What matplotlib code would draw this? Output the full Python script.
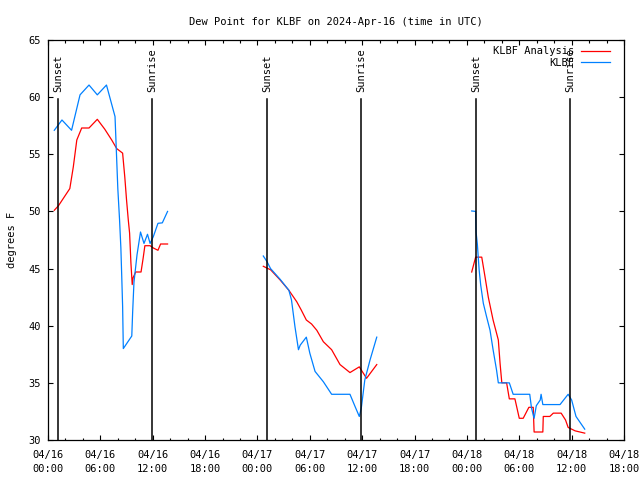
import matplotlib
matplotlib.use("Agg")
import matplotlib.pyplot as plt
import matplotlib.dates as mdates
import numpy as np
import pandas as pd

plt.rcParams['font.family'] = ['DejaVu Sans Mono']

start = pd.Timestamp("2024-04-16 00:00")

# hours after 2024-04-16 00:00 UTC ; dew point (F)
ana_h = [[0.72, 1.2, 2.5, 2.9, 3.3, 3.86, 4.7, 5.65, 6.5, 7.3, 7.87, 8.55, 8.8, 9.0, 9.2, 9.35, 9.5, 9.65, 9.75, 10.05, 10.66, 10.9, 11.1, 11.7, 12.07, 12.6, 12.9, 13.7],
         [24.67, 25.2, 25.5, 26.6, 27.6, 28.5, 29.0, 29.6, 30.2, 30.8, 31.55, 32.5, 33.46, 34.6, 35.67, 36.5, 37.67],
         [48.55, 49.0, 49.7, 50.07, 50.45, 51.0, 51.6, 51.8, 52.0, 52.55, 52.86, 53.5, 54.0, 54.45, 55.1, 55.6, 55.7, 56.7, 56.75, 57.5, 57.9, 58.8, 59.3, 59.6, 60.4, 61.5]]
ana_v = [[50.1, 50.5, 52.0, 53.9, 56.25, 57.3, 57.3, 58.06, 57.2, 56.25, 55.5, 55.1, 53.0, 51.0, 49.25, 48.1, 45.5, 43.6, 44.2, 44.7, 44.7, 45.9, 47.0, 47.0, 46.8, 46.6, 47.15, 47.15],
         [45.2, 45.0, 44.9, 44.0, 43.1, 42.1, 41.4, 40.5, 40.15, 39.6, 38.6, 37.9, 36.6, 35.9, 36.4, 35.4, 36.6],
         [44.7, 46.0, 46.0, 44.3, 42.5, 40.5, 38.75, 36.7, 35.0, 35.0, 33.6, 33.6, 31.9, 31.9, 32.86, 32.86, 30.7, 30.7, 32.06, 32.06, 32.35, 32.35, 31.75, 31.1, 30.8, 30.6]]

obs_h = [[0.72, 1.6, 2.7, 3.67, 4.7, 5.65, 6.7, 7.68, 8.0, 8.2, 8.35, 8.45, 8.55, 8.63, 9.6, 9.7, 9.85, 10.2, 10.6, 11.0, 11.4, 11.7, 12.07, 12.6, 13.1, 13.7],
         [24.67, 25.1, 25.5, 26.6, 27.6, 27.9, 28.3, 28.7, 28.9, 29.6, 30.0, 30.6, 31.55, 32.5, 34.6, 35.2, 35.67, 35.9, 36.3, 36.9, 37.67],
         [48.55, 49.0, 49.05, 49.2, 49.4, 49.58, 49.88, 50.25, 50.65, 51.0, 51.4, 51.6, 52.86, 53.3, 55.2, 55.4, 55.7, 55.95, 56.4, 56.5, 56.7, 58.67, 59.6, 60.0, 60.5, 61.5]]
obs_v = [[57.1, 58.0, 57.1, 60.2, 61.06, 60.2, 61.06, 58.3, 52.0, 49.25, 46.8, 44.3, 41.7, 38.0, 39.1, 41.2, 43.8, 46.2, 48.2, 47.2, 48.0, 47.2, 47.8, 48.96, 49.0, 50.0],
         [46.1, 45.6, 45.0, 44.06, 43.1, 42.25, 39.9, 37.9, 38.3, 39.0, 37.6, 36.0, 35.1, 34.0, 34.0, 32.9, 32.06, 32.8, 35.25, 37.0, 39.0],
         [50.04, 50.0, 48.2, 47.1, 44.9, 43.56, 41.96, 40.8, 39.6, 37.9, 36.1, 35.0, 35.0, 34.0, 34.0, 32.8, 31.9, 33.0, 33.5, 34.0, 33.1, 33.1, 34.0, 33.5, 32.06, 30.95]]

event_h = [1.15, 11.9, 25.1, 35.87, 49.05, 59.8]
event_lbl = ["Sunset", "Sunrise", "Sunset", "Sunrise", "Sunset", "Sunrise"]

def to_t(hours):
    return [start + pd.Timedelta(hours=h) for h in hours]

fig = plt.figure(figsize=(6.4, 4.8), dpi=100)
ax = fig.add_axes([48/640, 40/480, 576/640, 400/480])

for i, (h, v) in enumerate(zip(ana_h, ana_v)):
    ax.plot(to_t(h), v, color='#ff0000', lw=0.9, label='KLBF Analysis' if i == 0 else None)
for i, (h, v) in enumerate(zip(obs_h, obs_v)):
    ax.plot(to_t(h), v, color='#0080ff', lw=0.9, label='KLBF' if i == 0 else None)

for h, lbl in zip(event_h, event_lbl):
    t = start + pd.Timedelta(hours=h)
    ax.plot([t, t], [30, 59.8], color='black', lw=1.1)
    ax.text(t, 60.45, lbl, rotation=90, ha='center', va='bottom', fontsize=7.5)

ax.set_xlim(start, start + pd.Timedelta(hours=66))
ax.set_ylim(30, 65)
ax.set_yticks(np.arange(30, 66, 5))
ax.xaxis.set_major_locator(mdates.HourLocator(byhour=range(0, 24, 6)))
ax.xaxis.set_minor_locator(mdates.HourLocator(byhour=range(0, 24, 2)))
ax.xaxis.set_major_formatter(mdates.DateFormatter('%m/%d\n%H:%M'))
ax.tick_params(which='both', direction='in', top=True, right=True, labelsize=7.5, width=0.8)
ax.tick_params(axis='x', which='major', length=3.3, pad=7)
ax.tick_params(axis='y', which='major', length=3.3, pad=5)
ax.tick_params(which='minor', length=1.8)
for lab in ax.get_xticklabels():
    lab.set_linespacing(1.5)
for s in ax.spines.values():
    s.set_linewidth(0.9)

ax.set_ylabel('degrees F', fontsize=7.5, labelpad=8)
ax.set_title('Dew Point for KLBF on 2024-Apr-16 (time in UTC)', fontsize=7.5, pad=11)

ax.legend(loc='upper right', frameon=False, markerfirst=False, fontsize=7.5,
          handlelength=2.8, handletextpad=0.7, labelspacing=0.15,
          borderaxespad=0.2, bbox_to_anchor=(0.987, 1.0))

fig.savefig('out.png', dpi=100)
